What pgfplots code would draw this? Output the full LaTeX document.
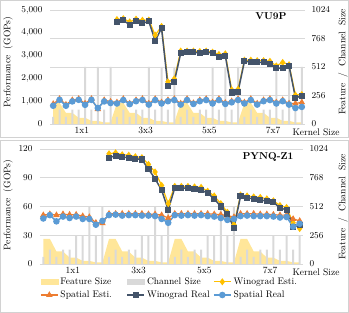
\documentclass[border=0pt]{standalone}
\usepackage{pgfplots}
\usepackage{pgfplotstable}
\pgfplotsset{compat=1.18}
\definecolor{featc}{HTML}{FFE699}
\definecolor{chanc}{HTML}{D9D9D9}
\definecolor{gridc}{HTML}{D9D9D9}
\definecolor{wec}{HTML}{FFC000}
\definecolor{sec}{HTML}{ED7D31}
\definecolor{wrc}{HTML}{44546A}
\definecolor{src}{HTML}{5B9BD5}

\pgfplotstableread{
x feat chan se sr we wr
0 190 64 880 800 nan nan
1 190 128 1100 1060 nan nan
2 100 64 850 800 nan nan
3 100 128 1050 990 nan nan
4 56 128 1100 1060 nan nan
5 56 512 900 840 nan nan
6 28 128 1100 1060 nan nan
7 28 512 650 700 nan nan
8 14 128 1050 990 nan nan
9 14 512 980 920 nan nan
10 190 64 950 900 4580 4480
11 190 128 1100 1050 4620 4550
12 100 64 900 870 4480 4350
13 100 128 1050 1000 4600 4500
14 56 128 1100 1050 4550 4420
15 56 512 900 850 4560 4500
16 28 128 1100 1050 3900 3650
17 28 512 950 900 4280 4200
18 14 128 1050 1000 1850 1650
19 14 512 1100 1050 1980 1850
20 190 64 900 850 3200 3100
21 190 128 1100 1050 3200 3150
22 100 64 920 880 3200 3150
23 100 128 1050 1000 3180 3120
24 56 128 1100 1050 3200 3150
25 56 512 950 900 3150 3120
26 28 128 1100 1050 3050 2950
27 28 512 930 880 3080 3000
28 14 128 1000 950 1500 1380
29 14 512 1100 1050 1520 1420
30 190 64 950 900 2800 2750
31 190 128 1100 1050 2800 2720
32 100 64 900 850 2780 2700
33 100 128 1050 1000 2780 2700
34 56 128 1100 1050 2750 2650
35 56 512 950 900 2550 2450
36 28 128 1050 1000 2700 2450
37 28 512 900 850 2600 2550
38 14 128 900 700 1270 1150
39 14 512 950 750 1290 1230
}\topdata

\pgfplotstableread{
x feat chan se sr we wr
0 224 64 51 47.5 nan nan
1 224 128 52 51 nan nan
2 112 64 51 44.5 nan nan
3 112 128 52 49.5 nan nan
4 56 128 51.5 48 nan nan
5 56 256 51.5 49.5 nan nan
6 28 256 50 47 nan nan
7 28 512 49 47 nan nan
8 14 256 43 41 nan nan
9 14 512 42.5 45 nan nan
10 224 64 52.5 51 115 111
11 224 128 52.5 51.5 116 113
12 112 64 52.5 50.5 114 111.5
13 112 128 52.5 51 113.5 111
14 56 128 52.5 51 112 110
15 56 256 52.5 50.5 111 109
16 28 256 52 50.5 104 99
17 28 512 52 50 96 89
18 14 256 51 47 82 77
19 14 512 48 43 63 56.5
20 224 64 52.5 51 81 79.4
21 224 128 52.5 50.5 81 79.5
22 112 64 52.5 51 81 79
23 112 128 52.5 50.5 80.5 78.5
24 56 128 52.5 51 80 77
25 56 256 52.5 50 76 74
26 28 256 52 49.5 71 68
27 28 512 51.5 48 63 60
28 14 256 50.5 46 54 52
29 14 512 49 47 41 38
30 224 64 52.5 50 72 70.5
31 224 128 52.5 50.5 71 69
32 112 64 52.5 50 70 68
33 112 128 52 50 69.5 67
34 56 128 52 50 68 65.5
35 56 256 51.5 49.5 66 64.5
36 28 128 51 48.5 61 58.5
37 28 256 51 49 59 56.5
38 14 128 47 39 43 39
39 14 256 45 42 37 40.5
}\botdata

\pgfplotsset{
  common/.style={
    scale only axis, xmin=-0.5, xmax=39.5,
    major tick length=0pt, axis line style={draw=none},
    tick label style={font=\fontsize{9.5}{11}\selectfont},
  },
  rightax/.style={
    common, ymin=0, ymax=1024,
    axis y line*=right, axis x line*=bottom,
    ytick={0,256,512,768,1024},
    yticklabel style={/pgf/number format/1000 sep={}, xshift=3pt},
    xtick={4.5,14.5,24.5,34.5}, xticklabels={1x1,3x3,5x5,7x7},
    ymajorgrids, grid style={gridc, line width=0.6pt},
  },
  leftax/.style={
    common, ymin=0,
    axis y line*=left, axis x line=none,
    scaled y ticks=false,
    yticklabel style={/pgf/number format/fixed, xshift=-4pt},
  },
  wes/.style={wec, line width=1.2pt, mark=diamond*, mark size=2.6pt, mark options={solid}},
  ses/.style={sec, line width=1.2pt, mark=triangle*, mark size=2.6pt, mark options={solid}},
  wrs/.style={wrc, line width=1.5pt, mark=square*, mark size=2.3pt, mark options={solid}},
  srs/.style={src, line width=1.5pt, mark=*, mark size=2.5pt, mark options={solid}},
}

\begin{document}
\begin{tikzpicture}
\path[use as bounding box] (0,0) rectangle (349pt,313pt);
\draw[gray!35, line width=0.6pt] (0.5pt,175.5pt) rectangle (348.5pt,312.5pt);
\draw[gray!35, line width=0.6pt] (0.5pt,0.5pt) rectangle (348.5pt,172.5pt);

% ---------- top panel ----------
\begin{axis}[rightax, at={(50pt,189pt)}, anchor=south west, width=255pt, height=114pt]
\addplot[fill=featc, draw=none] table[x=x,y=feat]{\topdata} \closedcycle;
\addplot[ybar, bar width=2pt, fill=chanc, draw=none] table[x=x,y=chan]{\topdata};
\end{axis}
\begin{axis}[leftax, at={(50pt,189pt)}, anchor=south west, width=255pt, height=114pt,
  ymax=5000, ytick={0,1000,2000,3000,4000,5000}]
\addplot[wes] table[x=x,y=we]{\topdata};
\addplot[ses] table[x=x,y=se]{\topdata};
\addplot[wrs] table[x=x,y=wr]{\topdata};
\addplot[srs] table[x=x,y=sr]{\topdata};
\end{axis}

% ---------- bottom panel ----------
\begin{axis}[rightax, at={(40pt,49pt)}, anchor=south west, width=263pt, height=115pt]
\addplot[fill=featc, draw=none] table[x=x,y=feat]{\botdata} \closedcycle;
\addplot[ybar, bar width=2pt, fill=chanc, draw=none] table[x=x,y=chan]{\botdata};
\end{axis}
\begin{axis}[leftax, at={(40pt,49pt)}, anchor=south west, width=263pt, height=115pt,
  ymax=120, ytick={0,30,60,90,120},
  legend columns=3,
  legend cell align=left,
  legend style={at={(axis description cs:0.0,-0.1)}, anchor=north west,
    draw=none, fill=none, inner sep=0pt, font=\fontsize{9.5}{11}\selectfont,
    column sep=0pt, row sep=1pt,
    /tikz/every even column/.append style={text width=64pt}},
  ]
\addlegendimage{area legend, fill=featc, draw=featc}
\addlegendimage{area legend, fill=chanc, draw=chanc}
\addplot[wes] table[x=x,y=we]{\botdata};
\addplot[ses] table[x=x,y=se]{\botdata};
\addplot[wrs] table[x=x,y=wr]{\botdata};
\addplot[srs] table[x=x,y=sr]{\botdata};
\legend{Feature Size, Channel Size, Winograd Esti., Spatial Esti., Winograd Real, Spatial Real}
\end{axis}

% ---------- texts ----------
\begin{scope}[every node/.style={font=\fontsize{9.5}{11}\selectfont}]
\node[rotate=90] at (8pt,251pt) {Performance\ \ (GOPs)};
\node[rotate=90] at (8pt,108pt) {Performance\ \ (GOPs)};
\node[rotate=90] at (343pt,251pt) {Feature\ \ /\ \ Channel\ \ Size};
\node[rotate=90] at (343pt,106pt) {Feature\ \ /\ \ Channel\ \ Size};
\node at (316pt,181pt) {Kernel Size};
\node at (316pt,41pt) {Kernel Size};
\end{scope}
\node[font=\fontsize{10}{12}\selectfont\bfseries] at (271pt,297pt) {VU9P};
\node[font=\fontsize{10}{12}\selectfont\bfseries] at (268pt,156pt) {PYNQ-Z1};
\end{tikzpicture}
\end{document}
